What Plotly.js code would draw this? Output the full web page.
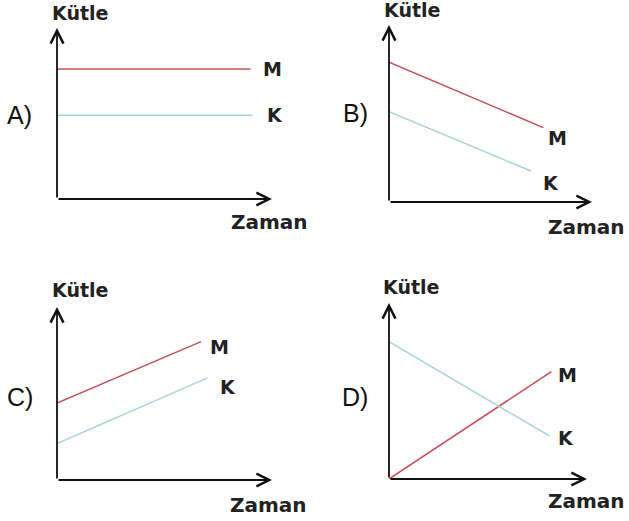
<!DOCTYPE html>
<html>
<head>
<meta charset="utf-8">
<script src="https://cdn.plot.ly/plotly-3.0.1.min.js"></script>
<style>
  html, body { margin: 0; padding: 0; background: #fff; }
  #chart { width: 629px; height: 521px; }
</style>
</head>
<body>
<div id="chart"></div>
<script>
// one entry per panel: A, B, C, D
const panelLabels = ['A)', 'B)', 'C)', 'D)'];
const mTime = [[0, 9.0], [0, 7.6], [0, 6.7], [0, 8.2]];
const mMass = [[7.6, 7.6], [7.9, 4.2], [4.45, 8.0], [0, 6.1]];
const kTime = [[0, 9.1], [0, 7.0], [0, 7.0], [0, 8.1]];
const kMass = [[4.9, 4.9], [5.1, 1.75], [2.1, 5.9], [7.8, 2.45]];
const seriesNames = ['M', 'K'];
const yTitle = 'Kütle';
const xTitle = 'Zaman';

const W = 629, H = 521;
const M_COLOR = '#c4505a';
const K_COLOR = '#a6d3dc';
const BOLD = "'DejaVu Sans', sans-serif";

const px = v => v / W;
const py = v => 1 - v / H;

// pixel boxes of each panel (x from y-axis to arrow tip, y from x-axis to arrow tip)
const domains = [
  { x: [px(57), px(272)], y: [py(199), py(28)] },
  { x: [px(389), px(592)], y: [py(202), py(25)] },
  { x: [px(57), px(272)], y: [py(480), py(307)] },
  { x: [px(389), px(587)], y: [py(479), py(303)] },
];
// label nudges (px) for M and K next to their line ends
const labelShift = [
  { m: [22, 0], k: [22, 0] },
  { m: [14, -10], k: [20, -12] },
  { m: [18, -5], k: [20, -9] },
  { m: [16, -3], k: [17, -2] },
];
// text centres in pixels: Kütle, Zaman, panel letter
const textPos = [
  { k: [80, 13], z: [269, 222], l: [19, 115] },
  { k: [412, 10], z: [586, 227], l: [355, 113] },
  { k: [80, 290], z: [268, 505], l: [20, 397] },
  { k: [411, 287], z: [586, 501], l: [355, 397] },
];

const traces = [];
const annotations = [];
const layout = {
  width: W,
  height: H,
  margin: { l: 0, r: 0, t: 0, b: 0 },
  paper_bgcolor: '#fff',
  plot_bgcolor: 'rgba(0,0,0,0)',
  showlegend: false,
  annotations,
};

function paperText(pos, text, font) {
  return {
    xref: 'paper', yref: 'paper', x: px(pos[0]), y: py(pos[1]),
    xanchor: 'center', yanchor: 'middle', text, showarrow: false, font,
  };
}

panelLabels.forEach((label, i) => {
  const n = i === 0 ? '' : String(i + 1);
  const xa = 'x' + n, ya = 'y' + n;
  const axis = {
    showgrid: false, zeroline: false, showline: false,
    showticklabels: false, ticks: '', range: [0, 10], fixedrange: true,
  };
  layout['xaxis' + n] = Object.assign({}, axis, { domain: domains[i].x, anchor: ya });
  layout['yaxis' + n] = Object.assign({}, axis, { domain: domains[i].y, anchor: xa });

  traces.push({
    type: 'scatter', mode: 'lines', name: seriesNames[0], xaxis: xa, yaxis: ya,
    x: mTime[i], y: mMass[i], line: { color: M_COLOR, width: 1.5 }, hoverinfo: 'skip',
  });
  traces.push({
    type: 'scatter', mode: 'lines', name: seriesNames[1], xaxis: xa, yaxis: ya,
    x: kTime[i], y: kMass[i], line: { color: K_COLOR, width: 1.5 }, hoverinfo: 'skip',
  });

  // axes drawn as arrows from the origin
  const arrow = {
    xref: xa, yref: ya, axref: xa, ayref: ya, ax: 0, ay: 0, text: '',
    showarrow: true, arrowhead: 5, arrowsize: 1.4, arrowwidth: 1.8, arrowcolor: '#111',
  };
  annotations.push(Object.assign({}, arrow, { x: 10, y: 0 }));
  annotations.push(Object.assign({}, arrow, { x: 0, y: 10 }));

  const p = textPos[i];
  annotations.push(paperText(p.k, '<b>' + yTitle + '</b>', { family: BOLD, size: 19, color: '#222' }));
  annotations.push(paperText(p.z, '<b>' + xTitle + '</b>', { family: BOLD, size: 20, color: '#222' }));
  annotations.push(paperText(p.l, label, { family: "'Liberation Sans', Arial, sans-serif", size: 25, color: '#111' }));

  const mEnd = mTime[i].length - 1, kEnd = kTime[i].length - 1;
  annotations.push({
    xref: xa, yref: ya, x: mTime[i][mEnd], y: mMass[i][mEnd], text: '<b>' + seriesNames[0] + '</b>',
    xanchor: 'center', yanchor: 'middle',
    showarrow: false, xshift: labelShift[i].m[0], yshift: labelShift[i].m[1],
    font: { family: BOLD, size: 19, color: '#222' },
  });
  annotations.push({
    xref: xa, yref: ya, x: kTime[i][kEnd], y: kMass[i][kEnd], text: '<b>' + seriesNames[1] + '</b>',
    xanchor: 'center', yanchor: 'middle',
    showarrow: false, xshift: labelShift[i].k[0], yshift: labelShift[i].k[1],
    font: { family: BOLD, size: 19, color: '#222' },
  });
});

Plotly.newPlot('chart', traces, layout, { displayModeBar: false, staticPlot: true });
</script>
</body>
</html>
